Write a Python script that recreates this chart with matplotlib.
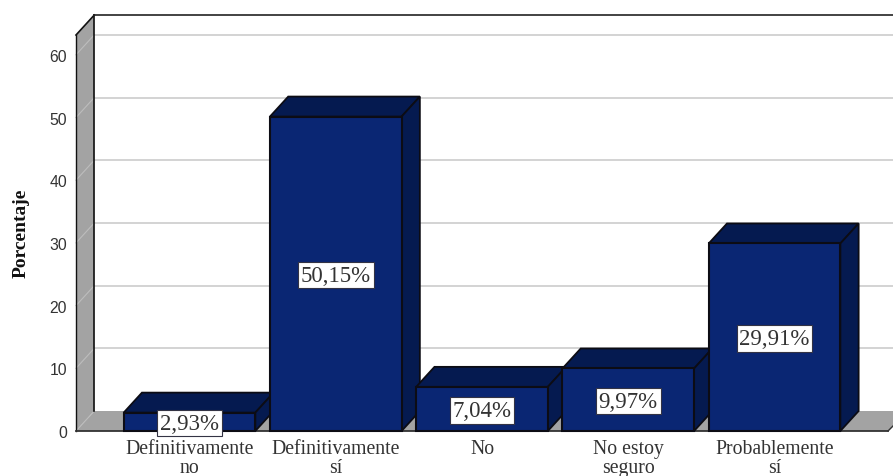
import matplotlib
matplotlib.use("Agg")
import matplotlib.pyplot as plt
from matplotlib.patches import Polygon

# values
categories = ["Definitivamente\nno", "Definitivamente\nsí", "No", "No estoy\nseguro", "Probablemente\nsí"]
values = [2.93, 50.15, 7.04, 9.97, 29.91]
labels = ["2,93%", "50,15%", "7,04%", "9,97%", "29,91%"]
y_ticks = [0, 10, 20, 30, 40, 50, 60]

W, H = 893, 477
BAR_BLUE = "#0a2673"
BAR_DARK = "#051a50"
WALL = "#a3a3a3"
GRID = "#cccccc"
EDGE = "#0c0c14"

# fake 3d: offset of the back plane, in data units
DX = 0.125
DY = 3.19
BAR_W = 0.90
XMIN, XMAX = -0.776, 4.81
YTOP = 63.16
FLOOR_END = 4.776

fig = plt.figure(figsize=(W / 100, H / 100), dpi=100)
ax = fig.add_axes([76 / W, 1 - 432 / H, (W - 76) / W, (432 - 36) / H])
ax.set_xlim(XMIN, XMAX)
ax.set_ylim(0, YTOP)
for s in ax.spines.values():
    s.set_visible(False)


def poly(pts, fc, ec="none", lw=0, z=1):
    p = Polygon(pts, closed=True, facecolor=fc, edgecolor=ec, linewidth=lw, zorder=z,
                clip_on=False, joinstyle="miter")
    ax.add_patch(p)


# left wall and floor
poly([(XMIN, 0), (XMIN + DX, DY), (XMIN + DX, YTOP + DY), (XMIN, YTOP)], WALL)
poly([(XMIN, 0), (XMIN + DX, DY), (XMAX + DX, DY), (FLOOR_END, 0)], WALL, z=1)

# grid on back wall and side wall
for t in y_ticks[1:]:
    ax.plot([XMIN + DX, XMAX], [t + DY, t + DY], color=GRID, lw=1.2, zorder=0.5, clip_on=False)
    ax.plot([XMIN, XMIN + DX], [t, t + DY], color="#bdbdbd", lw=0.8, zorder=1.5, clip_on=False)
ax.plot([XMIN, XMIN + DX], [0, DY], color="#bdbdbd", lw=0.8, zorder=1.5)

# frame lines
ax.plot([XMIN + DX, XMIN + DX], [DY, YTOP + DY], color="#111111", lw=1.2, zorder=2, clip_on=False)
ax.plot([XMIN, XMIN], [0, YTOP], color="#111111", lw=1.0, zorder=2, clip_on=False)
ax.plot([XMIN, XMIN + DX], [YTOP, YTOP + DY], color="#111111", lw=1.2, zorder=2, clip_on=False)
ax.plot([XMIN + DX, XMAX], [YTOP + DY, YTOP + DY], color="#222222", lw=1.2, zorder=2, clip_on=False)
ax.plot([XMIN, FLOOR_END], [0, 0], color="#333333", lw=1.3, zorder=2, clip_on=False)
ax.plot([FLOOR_END, XMAX], [0, 0.8], color="#333333", lw=1.0, zorder=2, clip_on=False)

# bars, drawn back to front so each front face sits over the neighbour's side
xs = list(range(len(values)))
for x, v in zip(xs, values):
    l, r = x - BAR_W / 2, x + BAR_W / 2
    poly([(l, v), (l + DX, v + DY), (r + DX, v + DY), (r, v)], BAR_DARK, EDGE, 1.3, z=3)
    poly([(r, 0), (r + DX, DY), (r + DX, v + DY), (r, v)], BAR_DARK, EDGE, 1.3, z=3)
ax.bar(xs, values, width=BAR_W, color=BAR_BLUE, edgecolor=EDGE, linewidth=1.5, zorder=4, clip_on=False)

for x, v, lab in zip(xs, values, labels):
    ax.annotate(lab, (x, v / 2), xytext=(0, -1), textcoords="offset points",
                ha="center", va="center", family="Liberation Serif", fontsize=16.5,
                color="#333333", zorder=6,
                bbox=dict(boxstyle="square,pad=0.12", facecolor="white", edgecolor="#333344", linewidth=0.8))

ax.set_xticks(xs)
ax.set_xticklabels(categories, family="Liberation Serif", fontsize=14.2, color="#333333", linespacing=1.0)
ax.tick_params(axis="x", length=0, pad=5.5)
ax.set_yticks(y_ticks)
ax.set_yticklabels([str(t) for t in y_ticks], family="Liberation Sans", fontsize=11.3, color="#333333")
ax.tick_params(axis="y", length=0, pad=6.5)
ax.set_zorder(2)

fig.text(21 / W, 1 - 233 / H, "Porcentaje", rotation=90, ha="center", va="center",
         family="Liberation Serif", fontweight="bold", fontsize=14, color="#111111")

fig.savefig("out.png", dpi=100)
